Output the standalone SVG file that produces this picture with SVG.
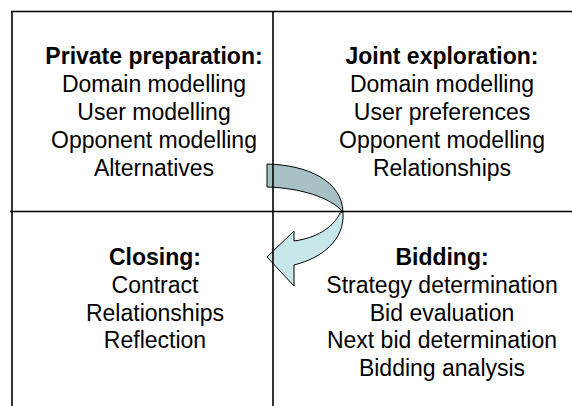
<svg xmlns="http://www.w3.org/2000/svg" width="572" height="406" viewBox="0 0 572 406">
  <style>
    .grid { stroke: #000; stroke-width: 1.6; fill: none; }
    .txt { font-family: "Liberation Sans", Arial, sans-serif; font-size: 23px; fill: #000; text-anchor: middle; }
    .head { font-weight: bold; }
    .band-back { fill: #a6c2c6; stroke: #000; stroke-width: 1; stroke-linejoin: round; }
    .band-front { fill: #c8e7ea; stroke: #000; stroke-width: 1; stroke-linejoin: round; }
  </style>
  <rect width="572" height="406" fill="#fff"/>

  <!-- curved arrow from the first phase round to the closing phase -->
  <g id="connectors">
    <path class="band-back" d="M 267,164 C 308,165 342,181 343,212 C 330,197 300,188 267,187 Z"/>
    <path class="band-front" d="M 343,212 C 345,240 322,258 294,265 L 294,286 L 267,257 L 294,231 L 294,241 C 316,238 333,228 340,213 Z"/>
  </g>

  <!-- quadrant grid -->
  <g id="grid">
    <line class="grid" x1="11" y1="11.5" x2="572" y2="11.5"/>
    <line class="grid" x1="12" y1="11" x2="12" y2="406"/>
    <line class="grid" x1="273" y1="11" x2="273" y2="406"/>
    <line class="grid" x1="10" y1="211.5" x2="572" y2="211.5"/>
  </g>

  <g id="private-preparation" class="txt">
    <text x="154" y="64" class="head">Private preparation:</text>
    <text x="154" y="92">Domain modelling</text>
    <text x="154" y="120">User modelling</text>
    <text x="154" y="148">Opponent modelling</text>
    <text x="154" y="176">Alternatives</text>
  </g>

  <g id="joint-exploration" class="txt">
    <text x="442" y="64" class="head">Joint exploration:</text>
    <text x="442" y="92">Domain modelling</text>
    <text x="442" y="120">User preferences</text>
    <text x="442" y="148">Opponent modelling</text>
    <text x="442" y="176">Relationships</text>
  </g>

  <g id="closing" class="txt">
    <text x="155" y="265" class="head">Closing:</text>
    <text x="155" y="293">Contract</text>
    <text x="155" y="321">Relationships</text>
    <text x="155" y="348">Reflection</text>
  </g>

  <g id="bidding" class="txt">
    <text x="442" y="265" class="head">Bidding:</text>
    <text x="442" y="293">Strategy determination</text>
    <text x="442" y="321">Bid evaluation</text>
    <text x="442" y="348">Next bid determination</text>
    <text x="442" y="376">Bidding analysis</text>
  </g>
</svg>
